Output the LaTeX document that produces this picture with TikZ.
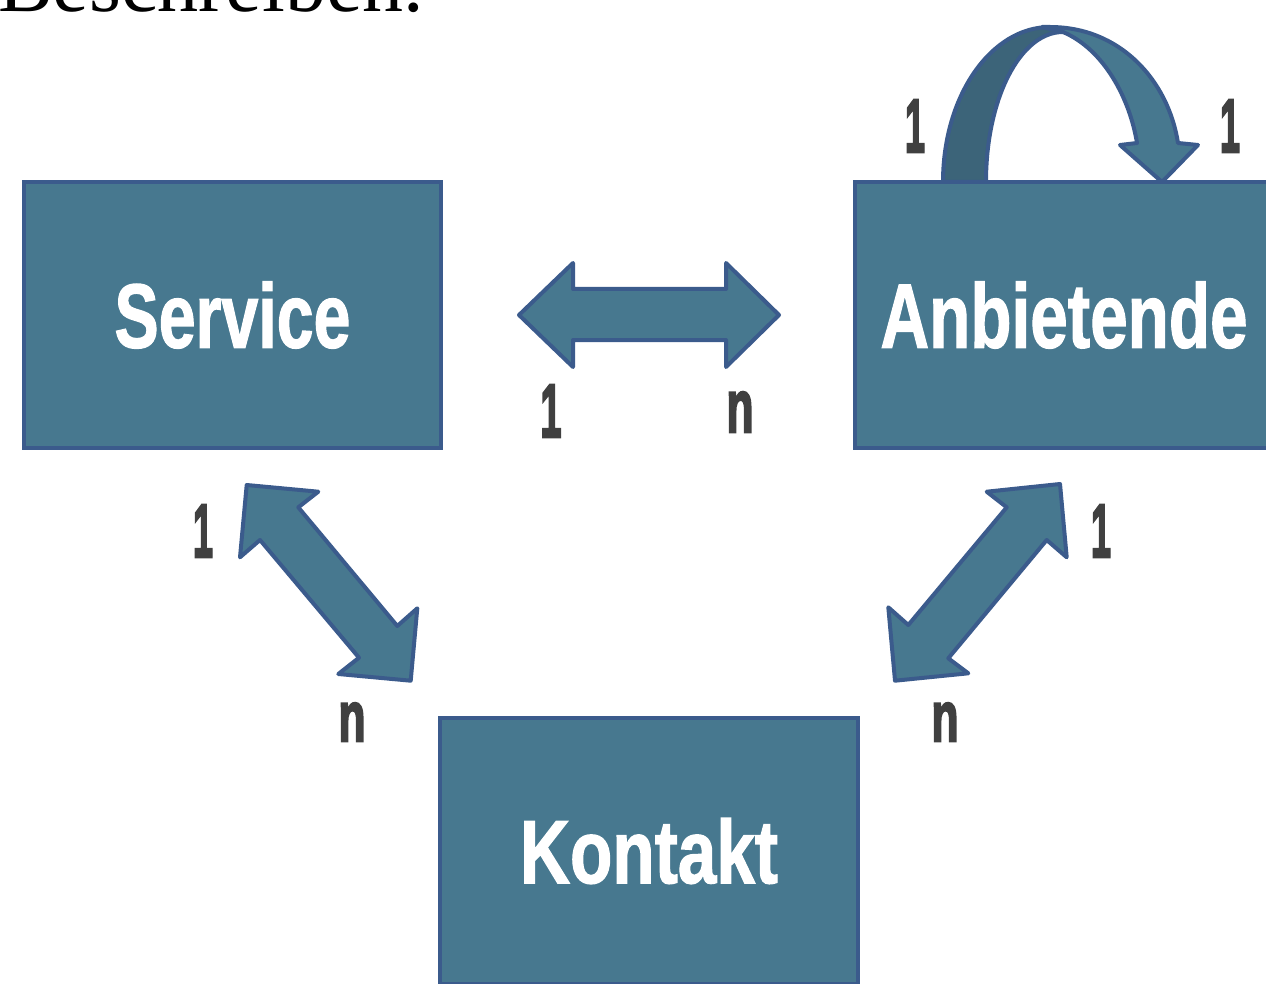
\documentclass[tikz,border=0pt]{standalone}
\usepackage{fontspec}
\setmainfont{Liberation Serif}
\newfontfamily\condfont{Liberation Sans Bold}[FakeBold=1.5]
\newfontfamily\heavyfont{Liberation Sans Bold}[FakeBold=3.5]
\definecolor{boxfill}{HTML}{47788F}
\definecolor{edgeblue}{HTML}{3B5B8C}
\definecolor{darkband}{HTML}{3C6479}
\definecolor{labelgray}{HTML}{404040}
\newcommand{\fittext}[3]{\resizebox{#1}{#2}{\condfont #3}}
\newcommand{\fitcard}[3]{\resizebox{#1}{#2}{\heavyfont #3}}
\tikzset{
  entity/.style={draw=edgeblue, fill=boxfill, line width=4pt, inner sep=0pt, text=white},
  blockarrow/.style={draw=edgeblue, fill=boxfill, line width=4pt, line join=round},
  backband/.style={draw=edgeblue, fill=darkband, line width=4pt, line join=round},
  card/.style={text=labelgray, inner sep=0pt}
}
\begin{document}
\begin{tikzpicture}[x=1pt,y=-1pt]
\useasboundingbox (0,0) rectangle (1266,984);
\clip (0,0) rectangle (1266,984);

% title fragment
\node[anchor=base west, inner sep=0pt, font=\fontsize{82}{82}\selectfont] (title) at (-2,12) {Beschreiben.};

% self-relation curved arrow
\draw[backband] (943,182) .. controls (943,96) and (991,27) .. (1050,27) -- (1063,32) .. controls (1020,32) and (986,99) .. (986,182) -- cycle;
\draw[blockarrow] (1042,27) -- (1050,27) .. controls (1120,27) and (1168,80) .. (1178,143) -- (1198,145) -- (1162,182) -- (1120,145) -- (1137,143) .. controls (1130,100) and (1105,50) .. (1063,32) -- cycle;

% entities
\node[entity, minimum width=417pt, minimum height=266pt] (service) at (232.5,315) {\fittext{236pt}{66pt}{Service}};
\node[entity, minimum width=418pt, minimum height=266pt] (anbietende) at (1064,315) {\fittext{367pt}{66pt}{Anbietende}};
\node[entity, minimum width=418pt, minimum height=266pt] (kontakt) at (649,851) {\fittext{258pt}{65pt}{Kontakt}};

% Service <-> Anbietende
\draw[blockarrow] (519,315) -- (573,263) -- (573,289) -- (726,289) -- (726,263) -- (779,315) -- (726,367) -- (726,340) -- (573,340) -- (573,367) -- cycle;
% Service <-> Kontakt
\draw[blockarrow] (246.7,485) -- (318.3,491.7) -- (298.3,507.3) -- (397.3,626) -- (417.3,608.3) -- (410.7,680.7) -- (338.3,674) -- (359,657.7) -- (260,540) -- (240,557.3) -- cycle;
% Anbietende <-> Kontakt
\draw[blockarrow] (1060,484) -- (1066.7,557.3) -- (1046.7,540) -- (948.3,658.3) -- (968.3,673.3) -- (895,680.7) -- (888.3,607.3) -- (908.3,625) -- (1006.7,507.3) -- (986.7,491.7) -- cycle;

% cardinalities
\node[card] (c1) at (551,411) {\fitcard{21pt}{52pt}{1}};
\node[card] (c2) at (740,412) {\fitcard{27pt}{40pt}{n}};
\node[card] (c3) at (203,531) {\fitcard{20pt}{52pt}{1}};
\node[card] (c4) at (352,722) {\fitcard{27pt}{38pt}{n}};
\node[card] (c5) at (1101,531) {\fitcard{20pt}{52pt}{1}};
\node[card] (c6) at (945,722) {\fitcard{27pt}{38pt}{n}};
\node[card] (c7) at (915,126) {\fitcard{20pt}{52pt}{1}};
\node[card] (c8) at (1230,126) {\fitcard{20pt}{52pt}{1}};
\end{tikzpicture}
\end{document}
